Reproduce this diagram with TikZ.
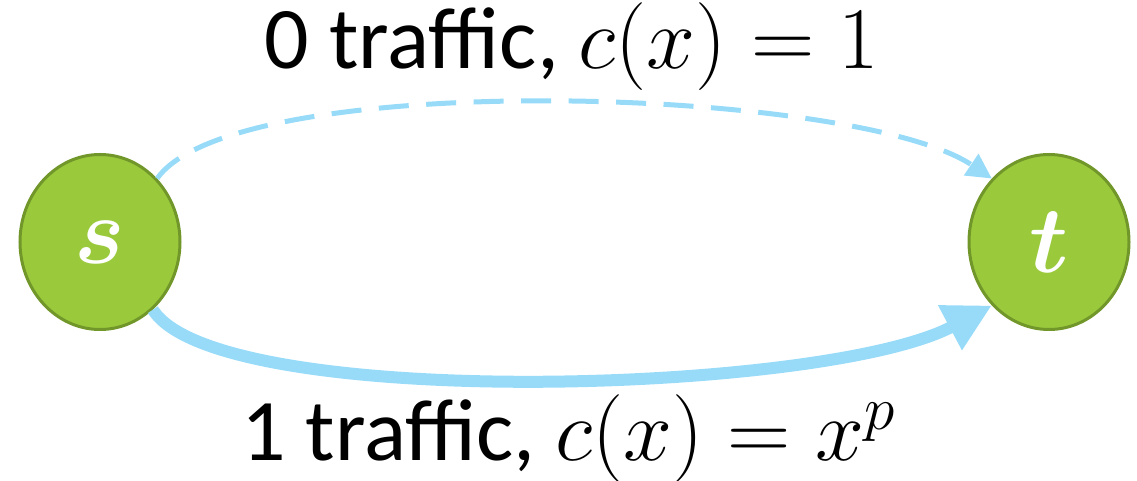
\RequirePackage{fix-cm}
\documentclass[tikz,border=0pt]{standalone}
\usepackage{amsmath}
\usepackage{bm}
\usepackage{fontspec}
\setmainfont{Carlito}
\usepackage{xcolor}
\usetikzlibrary{arrows.meta}
\usetikzlibrary{positioning, shapes.geometric, calc}

\definecolor{vertexgreen}{HTML}{9ACA3C}
\definecolor{vertexedge}{HTML}{71972A}
\definecolor{flowblue}{HTML}{97DBF9}

\tikzset{
    vertexnode/.style={ellipse, draw=vertexedge, line width=0.06cm, fill=vertexgreen,
        minimum width=3.2cm, minimum height=3.5cm, inner sep=0pt,
        text=white, font=\fontsize{54}{60}\selectfont},
    emptyroute/.style={draw=flowblue, line width=0.1cm, dash pattern=on 0.6cm off 0.35cm,
        -{Triangle[length=0.5cm, width=0.5cm]}},
    fullroute/.style={draw=flowblue, line width=0.24cm,
        -{Triangle[length=0.95cm, width=0.95cm]}},
    routelabel/.style={inner sep=0pt, font=\fontsize{50}{60}\selectfont}
}

\begin{document}
\begin{tikzpicture}
    \useasboundingbox (-2.0,-4.78) rectangle (20.74,4.84);
    \node[vertexnode] (s) {$\bm{s}$};
    \node[vertexnode, right=15.72cm of s] (t) {$\bm{t}$};
    \coordinate (m) at ($(s)!0.5!(t)$);
    % labels of the two routes
    \node[routelabel] (toplabel) at ($(m)+(-0.05,3.9)$) {0 traffic, $c(x) = 1$};
    \node[routelabel] (bottomlabel) at ($(m)+(-0.12,-3.94)$) {1 traffic, $c(x) = x^p$};
    % routes
    \draw[emptyroute] (s.48) to[out=55, in=146, out distance=2.7cm, in distance=3.3cm] (t.132);
    \draw[fullroute] (s.-52) to[out=-58, in=208, out distance=2.4cm, in distance=3.8cm] (t.-132);
\end{tikzpicture}
\end{document}
